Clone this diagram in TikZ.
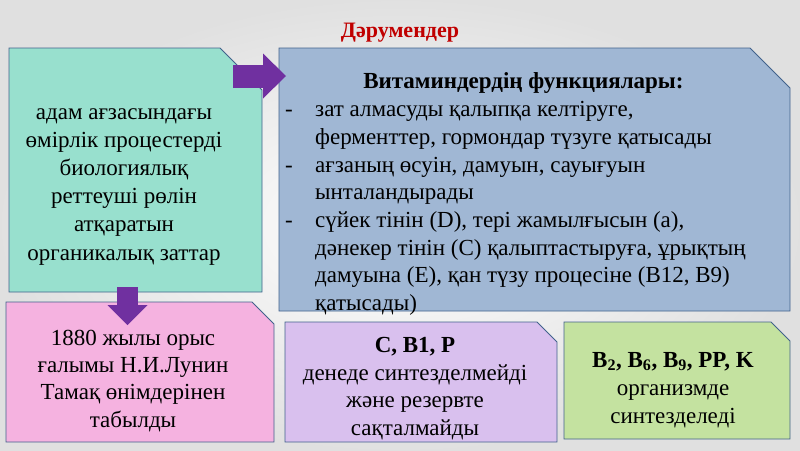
\documentclass[tikz,border=0pt]{standalone}
\usepackage{fontspec}
\setmainfont{Liberation Serif}
\usetikzlibrary{arrows.meta}

\definecolor{tealfill}{RGB}{152,224,206}
\definecolor{bluefill}{RGB}{160,183,212}
\definecolor{pinkfill}{RGB}{245,178,224}
\definecolor{lilacfill}{RGB}{217,192,238}
\definecolor{greenfill}{RGB}{196,226,160}
\definecolor{boxline}{RGB}{66,98,140}
\definecolor{arrowpurple}{RGB}{112,48,160}
\definecolor{titlered}{RGB}{192,0,0}

% box with its north east corner cut off
\newcommand{\cutcornerbox}[3]{%
  \filldraw[fill=#3, draw=boxline, line width=0.8pt] (#1.south west) -- (#1.north west)
    -- ([xshift=-#2]#1.north east) -- ([yshift=-#2]#1.north east) -- (#1.south east) -- cycle;}

\tikzset{
  boxframe/.style={rectangle, inner sep=0pt, outer sep=0pt},
  boxtext/.style={anchor=base, align=center, inner sep=0pt,
    font=\fontsize{23}{#1}\selectfont},
  blockarrow/.style={draw=arrowpurple, line width=#1, line cap=butt},
}

\begin{document}
\begin{tikzpicture}[x=1pt,y=-1pt]
  \useasboundingbox (0,0) rectangle (800,450);
  % Background
  \shade[inner color=white, outer color=gray!24] (0,0) rectangle (800,450);

  % Title
  \node[anchor=base, text=titlered, font=\fontsize{22}{26}\selectfont\bfseries] (title) at (400,37) {Дәрумендер};

  % Drawing box for definition
  \node[boxframe, minimum width=253pt, minimum height=244pt] (organic) at (135.5,170) {};
  \cutcornerbox{organic}{42pt}{tealfill}
  \node[boxtext=28.2pt] (organic text) at (124,260) {адам ағзасындағы\\өмірлік процестерді\\биологиялық\\реттеуші рөлін\\атқаратын\\органикалық заттар};

  % Drawing box for functions
  \node[boxframe, minimum width=511pt, minimum height=263pt] (functions) at (534.5,179.5) {};
  \cutcornerbox{functions}{40pt}{bluefill}
  \node[anchor=base west, inner sep=0pt, font=\fontsize{23}{27.7}\selectfont] (functions text) at (285,88) {%
    \begin{tabular}[t]{@{}p{30pt}@{}l@{}}
      \multicolumn{2}{@{\hspace{16pt}}c@{}}{\textbf{Витаминдердің функциялары:}}\\[1pt]
      - & зат алмасуды қалыпқа келтіруге,\\
        & ферменттер, гормондар түзуге қатысады\\
      - & ағзаның өсуін, дамуын, сауығуын\\
        & ынталандырады\\
      - & сүйек тінін (D), тері жамылғысын (а),\\
        & дәнекер тінін (С) қалыптастыруға, ұрықтың\\
        & дамуына (Е), қан түзу процесіне (В12, В9)\\
        & қатысады)
    \end{tabular}};

  % Drawing box for discovery
  \node[boxframe, minimum width=268pt, minimum height=140pt] (lunin) at (140,372) {};
  \cutcornerbox{lunin}{22pt}{pinkfill}
  \node[boxtext=27.3pt] (lunin text) at (133,427) {1880 жылы орыс\\ғалымы Н.И.Лунин\\Тамақ өнімдерінен\\табылды};

  % Drawing box for vitamins not synthesized
  \node[boxframe, minimum width=272pt, minimum height=120pt] (nosynth) at (421,382) {};
  \cutcornerbox{nosynth}{20pt}{lilacfill}
  \node[boxtext=27.5pt] (nosynth text) at (415,435) {\textbf{C, B1, P}\\денеде синтезделмейді\\және резервте\\сақталмайды};

  % Drawing box for vitamins synthesized
  \node[boxframe, minimum width=226pt, minimum height=117pt] (synth) at (677,380.5) {};
  \cutcornerbox{synth}{19pt}{greenfill}
  \node[boxtext=28pt] (synth text) at (673,423) {\textbf{B\textsubscript{2}, B\textsubscript{6}, B\textsubscript{9}, PP, K}\\организмде\\синтезделеді};

  % Drawing arrow right
  \draw[blockarrow=23pt, -{Triangle[width=45pt,length=23pt,line width=0pt]}] ([xshift=97.5pt,yshift=-28pt]organic.north) -- ([xshift=-248.5pt,yshift=-28pt]functions.north);

  % Drawing arrow down
  \draw[blockarrow=21pt, -{Triangle[width=40pt,length=20pt,line width=0pt]}] ([xshift=-8pt,yshift=5pt]organic.south) -- ([xshift=-12.5pt,yshift=-23pt]lunin.north);
\end{tikzpicture}
\end{document}
